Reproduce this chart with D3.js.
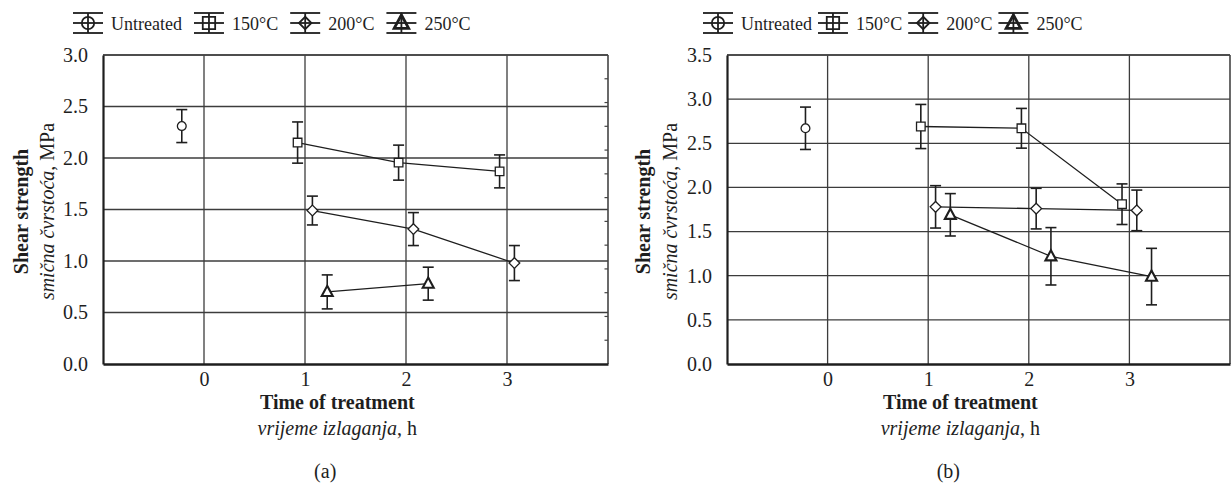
<!DOCTYPE html>
<html><head><meta charset="utf-8">
<script src="https://cdn.jsdelivr.net/npm/d3@7"></script>
</head><body style="margin:0;background:#fff">
<svg id="chart" width="1231" height="486"></svg>
<script>
// Series and shared axis values
const seriesNames = ["Untreated", "150°C", "200°C", "250°C"];
const timeTicks = [0, 1, 2, 3];
const untreatedTime = [0];
const treatedTime = [1, 2, 3];

// Panel (a): mean shear strength and standard deviation, MPa
const aUntreatedMean = [2.31], aUntreatedSd = [0.16];
const a150Mean = [2.15, 1.955, 1.87], a150Sd = [0.20, 0.17, 0.16];
const a200Mean = [1.49, 1.31, 0.98], a200Sd = [0.14, 0.16, 0.17];
const a250Mean = [0.70, 0.78], a250Sd = [0.165, 0.16];
const aYTicks = [0, 0.5, 1.0, 1.5, 2.0, 2.5, 3.0];

// Panel (b): mean shear strength and standard deviation, MPa
const bUntreatedMean = [2.67], bUntreatedSd = [0.24];
const b150Mean = [2.69, 2.67, 1.81], b150Sd = [0.25, 0.225, 0.23];
const b200Mean = [1.78, 1.76, 1.74], b200Sd = [0.24, 0.23, 0.23];
const b250Mean = [1.69, 1.22, 0.99], b250Sd = [0.24, 0.325, 0.32];
const bYTicks = [0, 0.5, 1.0, 1.5, 2.0, 2.5, 3.0, 3.5];

const FONT = '"Liberation Serif", "Times New Roman", serif';
const svg = d3.select("#chart").style("font-family", FONT).style("display", "block");

function buildSeries(means, sds) {
  const times = [untreatedTime, treatedTime, treatedTime, treatedTime];
  return seriesNames.map((name, i) => ({
    name,
    points: means[i].map((m, j) => ({ t: times[i][j], mean: m, sd: sds[i][j] }))
  }));
}

const panels = [
  {
    id: "a", yMax: 3.0, yTicks: aYTicks, left: 103, right: 608, top: 55, bottom: 364,
    series: buildSeries([aUntreatedMean, a150Mean, a200Mean, a250Mean], [aUntreatedSd, a150Sd, a200Sd, a250Sd]),
    minorRight: 13, yTitleX: 28, yTitle2X: 54, legendX: 73, legendGap: 12
  },
  {
    id: "b", yMax: 3.5, yTicks: bYTicks, left: 727, right: 1230, top: 55, bottom: 364,
    series: buildSeries([bUntreatedMean, b150Mean, b200Mean, b250Mean], [bUntreatedSd, b150Sd, b200Sd, b250Sd]),
    minorRight: 0, yTitleX: 650, yTitle2X: 677, legendX: 703, legendGap: 6
  }
];

// horizontal dodge so that series at the same hour do not overlap
const dodge = d3.scalePoint().domain(seriesNames).range([-0.22, 0.22]);

function markerPath(kind, s) {
  if (kind === 0) return d3.symbol(d3.symbolCircle, Math.PI * s * s)();
  if (kind === 1) return `M${-s},${-s}H${s}V${s}H${-s}Z`;
  if (kind === 2) return `M0,${-s * 1.25}L${s * 1.25},0L0,${s * 1.25}L${-s * 1.25},0Z`;
  const h = s * 1.1;
  return `M0,${-h * 1.1}L${h},${h * 0.75}L${-h},${h * 0.75}Z`;
}
const markerSize = [4.4, 4.3, 4.3, 5];
const legendMarkerSize = [6.2, 6.2, 5.0, 6.6];
const markerStroke = [1.3, 1.3, 1.3, 2.1];
const ink = "#1e1e1e";

panels.forEach(p => {
  const g = svg.append("g");
  const x = d3.scaleLinear().domain([-1, 4]).range([p.left, p.right]);
  const y = d3.scaleLinear().domain([0, p.yMax]).range([p.bottom, p.top]);

  // grid
  g.append("g").selectAll("line").data(p.yTicks.slice(1)).join("line")
    .attr("x1", p.left).attr("x2", p.right)
    .attr("y1", d => y(d)).attr("y2", d => y(d))
    .attr("stroke", "#3c3c3c").attr("stroke-width", 1.3);
  g.append("g").selectAll("line").data(timeTicks).join("line")
    .attr("x1", d => x(d)).attr("x2", d => x(d))
    .attr("y1", p.top).attr("y2", p.bottom)
    .attr("stroke", "#3c3c3c").attr("stroke-width", 1.3);

  // frame
  g.append("line").attr("x1", p.right).attr("x2", p.right).attr("y1", p.top).attr("y2", p.bottom)
    .attr("stroke", "#444").attr("stroke-width", 1.6);
  g.append("line").attr("x1", p.left).attr("x2", p.right).attr("y1", p.top).attr("y2", p.top)
    .attr("stroke", "#444").attr("stroke-width", 1.6);

  if (p.minorRight) {
    const m = d3.scaleLinear().domain([0, p.minorRight]).range([p.bottom, p.top]);
    g.append("g").selectAll("line").data(d3.range(1, p.minorRight)).join("line")
      .attr("x1", p.right - 3.5).attr("x2", p.right)
      .attr("y1", d => m(d)).attr("y2", d => m(d))
      .attr("stroke", "#444").attr("stroke-width", 1.2);
  }

  // axes
  const yAxis = g.append("g").attr("transform", `translate(${p.left},0)`)
    .call(d3.axisLeft(y).tickValues(p.yTicks).tickFormat(d3.format(".1f")).tickSize(0).tickPadding(15));
  yAxis.attr("font-family", null).attr("font-size", null);
  yAxis.select(".domain").attr("stroke", ink).attr("stroke-width", 2.2);
  yAxis.selectAll("text").style("font-family", FONT).style("font-size", "20px").attr("fill", ink);

  const xAxis = g.append("g").attr("transform", `translate(0,${p.bottom})`)
    .call(d3.axisBottom(x).tickValues(timeTicks).tickFormat(d3.format("d")).tickSize(0).tickPadding(8));
  xAxis.attr("font-family", null).attr("font-size", null);
  xAxis.select(".domain").attr("stroke", ink).attr("stroke-width", 2.6);
  xAxis.selectAll("text").style("font-family", FONT).style("font-size", "20px").attr("fill", ink);

  // axis titles
  const cy = (p.top + p.bottom) / 2 + 2;
  g.append("text").attr("transform", `translate(${p.yTitleX},${cy}) rotate(-90)`)
    .attr("text-anchor", "middle").style("font-size", "20px").style("font-weight", "bold").attr("fill", ink)
    .text("Shear strength");
  const t2 = g.append("text").attr("transform", `translate(${p.yTitle2X},${cy}) rotate(-90)`)
    .attr("text-anchor", "middle").style("font-size", "20px").attr("fill", ink);
  t2.append("tspan").style("font-style", "italic").text("smična čvrstoća");
  t2.append("tspan").text(", MPa");

  const tx = x(1.32);
  g.append("text").attr("x", tx).attr("y", 409).attr("text-anchor", "middle")
    .style("font-size", "20px").style("font-weight", "bold").attr("fill", ink).text("Time of treatment");
  const t3 = g.append("text").attr("x", tx).attr("y", 435).attr("text-anchor", "middle")
    .style("font-size", "20px").attr("fill", ink);
  t3.append("tspan").style("font-style", "italic").text("vrijeme izlaganja");
  t3.append("tspan").text(", h");
  g.append("text").attr("x", x(1.2)).attr("y", 478).attr("text-anchor", "middle")
    .style("font-size", "20px").attr("fill", ink).text(`(${p.id})`);

  // data
  const line = d3.line().x(d => d.px).y(d => y(d.mean));
  p.series.forEach((s, k) => {
    s.points.forEach(d => { d.px = x(d.t + dodge(s.name)); });
    const sg = g.append("g");
    if (s.points.length > 1) {
      sg.append("path").attr("d", line(s.points)).attr("fill", "none")
        .attr("stroke", ink).attr("stroke-width", 1.3);
    }
    const eb = sg.selectAll("g.err").data(s.points).join("g").attr("class", "err");
    eb.append("line").attr("x1", d => d.px).attr("x2", d => d.px)
      .attr("y1", d => y(d.mean - d.sd)).attr("y2", d => y(d.mean + d.sd))
      .attr("stroke", ink).attr("stroke-width", 1.6);
    [-1, 1].forEach(sign => {
      eb.append("line").attr("x1", d => d.px - 5.5).attr("x2", d => d.px + 5.5)
        .attr("y1", d => y(d.mean + sign * d.sd)).attr("y2", d => y(d.mean + sign * d.sd))
        .attr("stroke", ink).attr("stroke-width", 1.6);
    });
    sg.selectAll("path.mk").data(s.points).join("path").attr("class", "mk")
      .attr("transform", d => `translate(${d.px},${y(d.mean)})`)
      .attr("d", markerPath(k, markerSize[k]))
      .attr("fill", "#fff").attr("stroke", ink).attr("stroke-width", markerStroke[k]);
  });

  // legend: error-bar glyph with marker, then the series name
  const lg = g.append("g").attr("transform", `translate(${p.legendX},23)`);
  let cx = 0;
  seriesNames.forEach((name, k) => {
    const it = lg.append("g").attr("transform", `translate(${cx},0)`);
    [-10, 0, 10].forEach(dy => it.append("line").attr("x1", 0).attr("x2", 30).attr("y1", dy).attr("y2", dy)
      .attr("stroke", ink).attr("stroke-width", 1.8));
    it.append("line").attr("x1", 15).attr("x2", 15).attr("y1", -10).attr("y2", 10)
      .attr("stroke", ink).attr("stroke-width", 1.8);
    it.append("path").attr("transform", "translate(15,0)").attr("d", markerPath(k, legendMarkerSize[k]))
      .attr("fill", "none").attr("stroke", ink).attr("stroke-width", k === 3 ? 2.8 : 1.8);
    const tt = it.append("text").attr("x", 38).attr("y", 6.5).style("font-size", "18px").attr("fill", ink).text(name);
    cx += 38 + tt.node().getComputedTextLength() + p.legendGap;
  });
});
</script>
</body></html>
